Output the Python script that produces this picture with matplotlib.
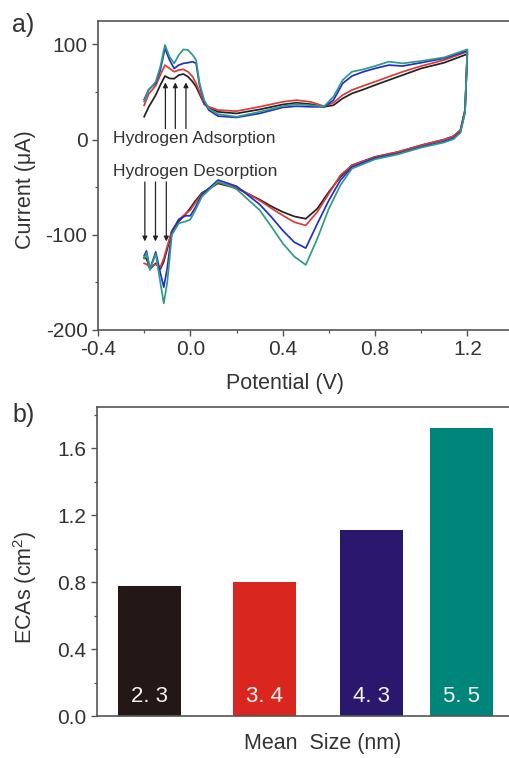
import matplotlib
matplotlib.use("Agg")
import matplotlib.pyplot as plt
from matplotlib.ticker import MultipleLocator

plt.rcParams['font.family'] = ['Liberation Sans', 'DejaVu Sans']
plt.rcParams['mathtext.fontset'] = 'custom'
plt.rcParams['mathtext.rm'] = 'Liberation Sans'
plt.rcParams['mathtext.it'] = 'Liberation Sans'

# ---------------- Data: cyclic voltammograms ----------------
# forward (anodic) scan potentials (V)
E_fwd = [-0.2, -0.18, -0.15, -0.13, -0.11, -0.09, -0.07, -0.05, -0.03, -0.01,
         0.01, 0.025, 0.04, 0.06, 0.08, 0.12, 0.2, 0.3, 0.4, 0.46, 0.52, 0.58,
         0.62, 0.66, 0.7, 0.75, 0.8, 0.86, 0.92, 1.0, 1.1, 1.2]
# reverse (cathodic) scan potentials (V)
E_rev = [1.2, 1.19, 1.17, 1.14, 1.1, 1.0, 0.9, 0.8, 0.7, 0.65, 0.6, 0.55, 0.5,
         0.45, 0.4, 0.35, 0.3, 0.2, 0.12, 0.05, 0.02, 0.0, -0.02, -0.05, -0.08, -0.1,
         -0.115, -0.13, -0.15, -0.175, -0.19, -0.2]

black_fwd = [24, 34.4, 46.7, 57.2, 66.7, 64.2, 63.9, 67.7, 68.8, 66, 60.7, 55.4,
             47.7, 37.2, 33.7, 29.1, 27.4, 31.6, 36.8, 38.6, 37.2, 34.4, 36, 43.2,
             48.4, 52.6, 57.2, 62.5, 67.7, 74.7, 80.7, 89.8]
red_fwd = [36, 48, 56.5, 67.7, 78.2, 74.7, 71.2, 73, 73.7, 71.2, 66, 59, 50,
           37.9, 34.4, 31, 29.8, 34.4, 39.6, 41.4, 39.6, 35, 38.6, 46.7, 52, 56.5,
           60.7, 66, 71.2, 77.2, 83.5, 92.3]
blue_fwd = [42, 52.6, 59, 73, 95.8, 83.5, 74.7, 78.2, 80, 80.7, 81.8, 80, 57,
            39.6, 30.9, 24.6, 23.2, 27.4, 33.7, 35, 34.4, 34.4, 41.4, 59, 66.7,
            71.2, 74.7, 78.2, 77.2, 80.7, 85.3, 93.3]
teal_fwd = [40, 52, 60.7, 76.5, 99.3, 87, 80, 88.8, 94.7, 94, 88.8, 83.5, 59,
            41.4, 32.6, 26.7, 23.9, 29.1, 35, 37.2, 36, 35, 45, 62.5, 71.2, 73.7,
            77.2, 81.8, 80, 82.5, 86.3, 94.7]

black_rev = [89.8, 31, 9.8, 3.5, 0, -6, -13, -18.2, -27, -39.3, -55, -72.6, -83.2,
             -80.7, -76, -70, -63, -51, -46, -56, -65, -72, -78, -86, -96, -115, -128,
             -136, -130, -136, -125, -124]
red_rev = [92.3, 31, 9.8, 3.5, 0, -6, -13, -18.5, -27, -37.5, -56.8, -76, -90.2,
           -86.7, -79.6, -72, -64, -50, -45, -57, -67, -74, -78, -84, -96, -112, -125,
           -134, -131, -134, -131, -130]
blue_rev = [93.3, 29, 8, 1.5, -2, -7.7, -14.7, -19.5, -28.8, -42.8, -63.9, -88.4,
            -114, -107.7, -95.4, -81, -68, -49, -42.5, -58, -72, -80, -80, -84, -97,
            -135, -155, -140, -118, -136, -117, -122]
teal_rev = [94.7, 28, 7, 0.5, -3, -8.4, -15.5, -20.7, -30.5, -48, -72.6, -104.2,
            -131.6, -122.8, -108.8, -91, -74, -52, -44, -60, -75, -84, -86, -88, -100,
            -150, -172, -150, -120, -137, -119, -125]

cv_colors = ['#222222', '#e03a36', '#2030c8', '#2f9a8a']

# ---------------- Data: ECAs bars ----------------
size_labels = ['2. 3', '3. 4', '4. 3', '5. 5']
ecas = [0.78, 0.80, 1.11, 1.72]
bar_colors = ['#231815', '#d9261f', '#2a186e', '#00857b']
bar_pos = [1.262, 4.026, 6.599, 8.75]   # layout positions along the axis

text_c = '#333333'
spine_c = '#555555'

fig = plt.figure(figsize=(5.09, 7.58), dpi=100)
W, H = 509.0, 758.0

def axes_px(l, t, r, b):
    return fig.add_axes([l / W, 1 - b / H, (r - l) / W, (b - t) / H])

# ---------------- Panel a ----------------
ax1 = axes_px(98, 21, 513.5, 330)
curves = [(black_fwd, black_rev), (red_fwd, red_rev),
          (blue_fwd, blue_rev), (teal_fwd, teal_rev)]
for (fwd, rev), c in zip(curves, cv_colors):
    ax1.plot(E_fwd + E_rev, fwd + rev, color=c, lw=1.25)

ax1.set_xlim(-0.4, 1.4)
ax1.set_ylim(-200, 124.5)
ax1.xaxis.set_minor_locator(MultipleLocator(0.2))
ax1.yaxis.set_minor_locator(MultipleLocator(50))
ax1.set_xticks([-0.4, 0.0, 0.4, 0.8, 1.2])
ax1.set_xticklabels(['-0.4', '0.0', '0.4', '0.8', '1.2'])
ax1.set_yticks([-200, -100, 0, 100])
ax1.set_yticklabels(['-200', '-100', '0', '100'])
ax1.spines['right'].set_visible(False)

for a in ['x', 'y']:
    ax1.tick_params(axis=a, which='major', direction='out', length=4.5,
                    width=1.0, color=spine_c, labelsize=15, labelcolor=text_c, pad=3)
    ax1.tick_params(axis=a, which='minor', direction='out', length=2.5,
                    width=0.9, color=spine_c)
for s in ax1.spines.values():
    s.set_color(spine_c)
    s.set_linewidth(1.2)

ax1.set_xlabel('Potential (V)', fontsize=15.5, color=text_c)
ax1.xaxis.set_label_coords((285 - 98) / 415.5, -(384 - 330) / 309)
ax1.xaxis.label.set_va('center')
ax1.set_ylabel('Current (\u03bcA)', fontsize=15.5, color=text_c)
ax1.yaxis.set_label_coords(-(98 - 25) / 415.5, (330 - 190) / 309)
ax1.yaxis.label.set_va('center')

# annotations
for e in [-0.108, -0.065, -0.019]:
    ax1.annotate('', xy=(e, 60), xytext=(e, 11.5),
                 arrowprops=dict(arrowstyle='-|>', color='#222222', lw=0.9,
                                 mutation_scale=7, shrinkA=0, shrinkB=0))
for e in [-0.197, -0.151, -0.104]:
    ax1.annotate('', xy=(e, -107), xytext=(e, -44.5),
                 arrowprops=dict(arrowstyle='-|>', color='#222222', lw=0.9,
                                 mutation_scale=7, shrinkA=0, shrinkB=0))
ax1.text(-0.333, 1.0, 'Hydrogen Adsorption', fontsize=12.5, color=text_c,
         ha='left', va='center')
ax1.text(-0.333, -33.5, 'Hydrogen Desorption', fontsize=12.5, color=text_c,
         ha='left', va='center')

fig.text(12 / W, 1 - 25 / H, 'a)', fontsize=18, color=text_c, ha='left', va='center')

# ---------------- Panel b ----------------
ax2 = axes_px(97, 406.7, 513.5, 716)
ax2.bar(bar_pos, ecas, width=1.514, color=bar_colors, edgecolor='none')
for x, v, lab in zip(bar_pos, ecas, size_labels):
    ax2.text(x, 0.115, lab, color='#f4f4f4', fontsize=16, ha='center', va='center')
ax2.set_xlim(0, 10)
ax2.set_ylim(0, 1.85)
ax2.yaxis.set_minor_locator(MultipleLocator(0.2))
ax2.set_yticks([0.0, 0.4, 0.8, 1.2, 1.6])
ax2.set_yticklabels(['0.0', '0.4', '0.8', '1.2', '1.6'])
ax2.set_xticks([])
ax2.spines['right'].set_visible(False)
ax2.tick_params(axis='y', which='major', direction='out', length=4.5, width=1.0,
                color=spine_c, labelsize=15, labelcolor=text_c, pad=3)
ax2.tick_params(axis='y', which='minor', direction='out', length=2.5, width=0.9,
                color=spine_c)
for s in ax2.spines.values():
    s.set_color(spine_c)
    s.set_linewidth(1.2)

ax2.set_xlabel('Mean  Size (nm)', fontsize=15.5, color=text_c)
ax2.xaxis.set_label_coords((323 - 97) / 416.5, -(743 - 716) / 309.3)
ax2.xaxis.label.set_va('center')
ax2.set_ylabel('ECAs (cm$^{2}$)', fontsize=15.5, color=text_c)
ax2.yaxis.set_label_coords(-(97 - 25) / 416.5, (716 - 587) / 309.3)
ax2.yaxis.label.set_va('center')

fig.text(12 / W, 1 - 415 / H, 'b)', fontsize=18, color=text_c, ha='left', va='center')

fig.savefig('out.png', dpi=100)
